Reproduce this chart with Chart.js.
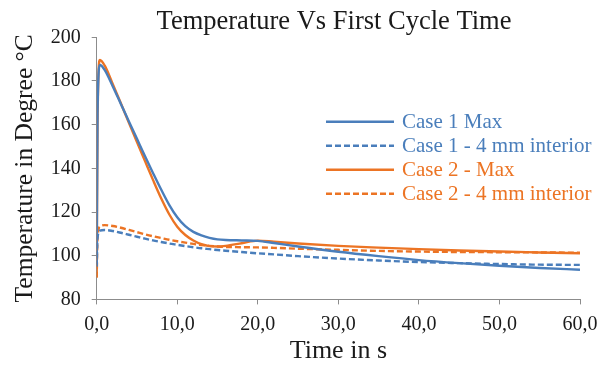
<!DOCTYPE html>
<html>
<head>
<meta charset="utf-8">
<script src="https://cdn.jsdelivr.net/npm/chart.js@4.4.1/dist/chart.umd.min.js"></script>
<style>
  html, body { margin: 0; padding: 0; background: #fff; }
  #wrap { width: 609px; height: 370px; }
</style>
</head>
<body>
<div id="wrap"><canvas id="chart" width="609" height="370"></canvas></div>
<script>
const chartTitle = 'Temperature Vs First Cycle Time';
const seriesNames = ['Case 1 Max', 'Case 1 - 4 mm interior', 'Case 2 - Max', 'Case 2 - 4 mm interior'];
const times = [0, 0.1, 0.4, 1, 2, 3, 4, 5, 6, 7, 8, 9, 10, 11, 12, 13, 14, 15, 16, 18, 20, 22, 25, 30, 35, 40, 45, 50, 55, 60];
const case1Max = [96, 165, 187.3, 185, 177.5, 169.5, 161.5, 153.5, 145.5, 137.8, 130.3, 123.3, 117.6, 113.5, 110.9, 109.3, 108.2, 107.5, 107.2, 107, 106.8, 105.8, 104.2, 101.8, 99.8, 98, 96.6, 95.4, 94.4, 93.6];
const case1Int = [95, 108, 111.5, 111.8, 111.3, 110.5, 109.6, 108.7, 107.8, 107, 106.3, 105.6, 105, 104.4, 103.9, 103.4, 103, 102.6, 102.3, 101.7, 101.1, 100.6, 99.8, 98.7, 97.8, 97.1, 96.6, 96.2, 95.9, 95.8];
const case2Max = [90, 160, 189.6, 187, 178.5, 169.8, 160.8, 152, 143.3, 134.6, 126.3, 119, 113.3, 109.5, 107, 105.3, 104.4, 104.2, 104.5, 105.7, 106.9, 106.4, 105.6, 104.5, 103.7, 103, 102.4, 101.9, 101.5, 101.1];
const case2Int = [90, 108, 113.3, 114, 113.6, 112.8, 111.8, 110.8, 109.8, 108.9, 108.1, 107.3, 106.6, 106, 105.4, 104.9, 104.5, 104.2, 104, 103.9, 103.8, 103.6, 103.2, 102.7, 102.2, 101.9, 101.7, 101.6, 101.5, 101.4];
const xTicks = [0, 10, 20, 30, 40, 50, 60];
const yTicks = [80, 100, 120, 140, 160, 180, 200];

const BLUE = '#4a7ebb';
const ORANGE = '#ec7424';
const AXIS = '#8c8c8c';
const TEXT = '#1a1a1a';
const SERIF = '"Liberation Serif", "Times New Roman", serif';

function toPoints(vals) {
  return times.map((t, i) => ({ x: t, y: vals[i] }));
}

function makeSet(label, vals, color, dashed) {
  return {
    label: label,
    data: toPoints(vals),
    borderColor: color,
    backgroundColor: color,
    borderWidth: 2.4,
    borderDash: dashed ? [6, 3] : [],
    pointRadius: 0,
    showLine: true,
    fill: false,
    cubicInterpolationMode: 'monotone'
  };
}

// title centred a bit right of the canvas middle, like the original
const titleText = {
  id: 'titleText',
  afterDraw(chart) {
    const ctx = chart.ctx;
    ctx.save();
    ctx.font = '26.5px ' + SERIF;
    ctx.fillStyle = TEXT;
    ctx.textAlign = 'center';
    ctx.textBaseline = 'alphabetic';
    ctx.fillText(chartTitle, 334, 28.5);
    ctx.restore();
  }
};

// legend drawn inside the plot, right side
const insideLegend = {
  id: 'insideLegend',
  afterDatasetsDraw(chart) {
    const ctx = chart.ctx;
    const x0 = 326, x1 = 394, tx = 402;
    let y = 121.8;
    ctx.save();
    ctx.font = '21px ' + SERIF;
    ctx.textBaseline = 'middle';
    chart.data.datasets.forEach(ds => {
      ctx.strokeStyle = ds.borderColor;
      ctx.lineWidth = ds.borderWidth;
      ctx.setLineDash(ds.borderDash);
      ctx.beginPath();
      ctx.moveTo(x0, y);
      ctx.lineTo(x1, y);
      ctx.stroke();
      ctx.setLineDash([]);
      ctx.fillStyle = ds.borderColor;
      ctx.fillText(ds.label, tx, y + 1);
      y += 24;
    });
    ctx.restore();
  }
};

new Chart(document.getElementById('chart'), {
  type: 'scatter',
  data: {
    datasets: [
      makeSet(seriesNames[0], case1Max, BLUE, false),
      makeSet(seriesNames[1], case1Int, BLUE, true),
      makeSet(seriesNames[2], case2Max, ORANGE, false),
      makeSet(seriesNames[3], case2Int, ORANGE, true)
    ]
  },
  options: {
    responsive: false,
    animation: false,
    layout: { padding: { left: 0, right: 29, top: 37.3, bottom: 0 } },
    plugins: {
      legend: { display: false },
      tooltip: { enabled: false },
      title: { display: false }
    },
    scales: {
      x: {
        type: 'linear',
        min: 0,
        max: 60,
        afterBuildTicks(scale) { scale.ticks = xTicks.map(v => ({ value: v })); },
        afterFit(scale) { scale.height = 70.6; },
        grid: { drawOnChartArea: false, drawTicks: true, tickLength: 5, color: AXIS },
        border: { display: true, color: AXIS, width: 1 },
        ticks: {
          color: TEXT,
          padding: 8,
          maxRotation: 0,
          font: { family: SERIF, size: 20 },
          callback: v => v.toFixed(1).replace('.', ',')
        },
        title: {
          display: true,
          text: 'Time in s',
          color: TEXT,
          font: { family: SERIF, size: 26 },
          padding: { top: 0, bottom: 3 }
        }
      },
      y: {
        min: 80,
        max: 200,
        afterBuildTicks(scale) { scale.ticks = yTicks.map(v => ({ value: v })); },
        afterFit(scale) { scale.width = 96.7; },
        grid: { drawOnChartArea: false, drawTicks: true, tickLength: 5, color: AXIS },
        border: { display: true, color: AXIS, width: 1 },
        ticks: {
          color: TEXT,
          padding: 11,
          font: { family: SERIF, size: 20 }
        },
        title: {
          display: true,
          text: 'Temperature in Degree °C',
          color: TEXT,
          font: { family: SERIF, size: 25.5 },
          padding: { top: 9.5, bottom: 0 }
        }
      }
    }
  },
  plugins: [titleText, insideLegend]
});
</script>
</body>
</html>
